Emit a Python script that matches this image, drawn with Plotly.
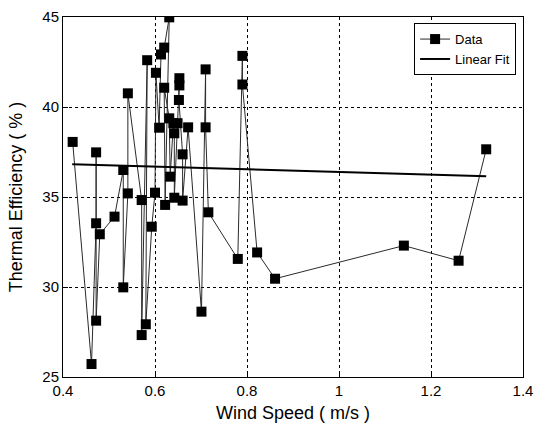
import plotly.graph_objects as go

wind_speed = [0.421, 0.462, 0.472, 0.472, 0.472, 0.480, 0.512, 0.531, 0.531, 0.541,
              0.541, 0.571, 0.571, 0.583, 0.580, 0.593, 0.600, 0.602, 0.609, 0.613,
              0.620, 0.631, 0.622, 0.620, 0.631, 0.633, 0.640, 0.642, 0.642, 0.649,
              0.653, 0.653, 0.652, 0.660, 0.660, 0.672, 0.701, 0.710, 0.710, 0.716,
              0.780, 0.790, 0.790, 0.822, 0.861, 1.141, 1.260, 1.320]
efficiency = [38.06, 25.72, 33.54, 37.48, 28.13, 32.93, 33.91, 36.50, 29.98, 35.20,
              40.76, 34.83, 27.33, 42.60, 27.93, 33.35, 35.24, 41.90, 38.85, 42.92,
              43.30, 44.98, 34.56, 41.07, 39.37, 36.13, 39.10, 38.54, 34.96, 39.10,
              41.60, 41.20, 40.39, 37.37, 34.80, 38.87, 28.63, 42.09, 38.87, 34.15,
              31.56, 42.84, 41.25, 31.92, 30.46, 32.30, 31.46, 37.65]

fit_x = [0.42, 1.32]
fit_y = [36.82, 36.15]

x_ticks = [0.4, 0.6, 0.8, 1.0, 1.2, 1.4]
x_tick_labels = ["0.4", "0.6", "0.8", "1", "1.2", "1.4"]
y_ticks = [25, 30, 35, 40, 45]

FONT = "Liberation Sans, Arial, sans-serif"

fig = go.Figure()
fig.add_trace(go.Scatter(
    x=wind_speed, y=efficiency, mode="lines+markers", name="Data",
    line=dict(color="#2a2a2a", width=1),
    marker=dict(symbol="square", size=10, color="black"),
))
fig.add_trace(go.Scatter(
    x=fit_x, y=fit_y, mode="lines", name="Linear Fit",
    line=dict(color="black", width=2),
))

axis_common = dict(
    showline=True, mirror=True, linecolor="black", linewidth=1,
    showgrid=True, gridcolor="black", gridwidth=1, griddash="3px,3px",
    ticks="inside", ticklen=5, tickcolor="black",
    zeroline=False, automargin=False,
    tickfont=dict(family=FONT, size=15, color="black"),
)

fig.update_xaxes(
    range=[0.4, 1.4], tickvals=x_ticks, ticktext=x_tick_labels,
    title=dict(text="Wind Speed ( m/s )", font=dict(family=FONT, size=18, color="black")),
    **axis_common,
)
fig.update_yaxes(
    range=[25, 45], tickvals=y_ticks,
    title=dict(text="Thermal Efficiency ( % )", font=dict(family=FONT, size=18, color="black")),
    **axis_common,
)

fig.update_layout(
    width=539, height=423,
    margin=dict(l=63, r=16, t=17, b=46),
    paper_bgcolor="white", plot_bgcolor="white",
    font=dict(family=FONT, color="black"),
    legend=dict(
        x=0.985, y=0.983, xanchor="right", yanchor="top",
        bgcolor="white", bordercolor="black", borderwidth=1,
        font=dict(family=FONT, size=13, color="black"),
        tracegroupgap=0, itemwidth=30,
    ),
    showlegend=True,
)

fig.write_html(
    "out.html",
    config={"displayModeBar": False},
    post_script="document.body.style.margin='0';document.body.style.overflow='hidden';",
)
